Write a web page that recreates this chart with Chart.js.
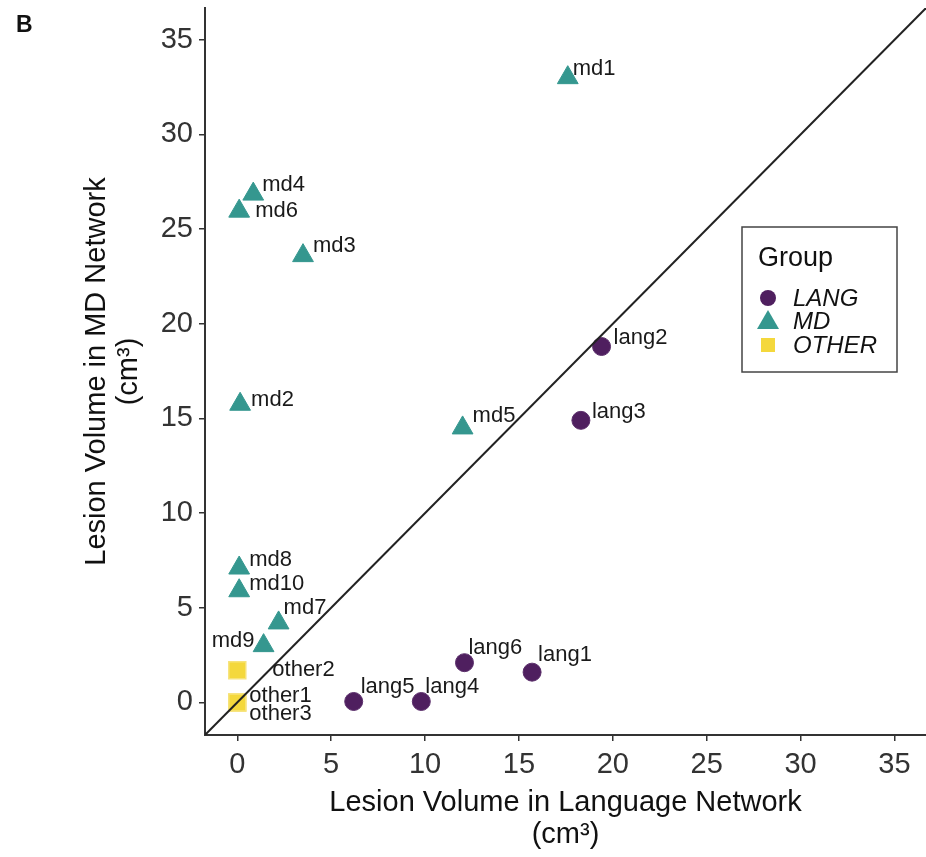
<!DOCTYPE html>
<html>
<head>
<meta charset="utf-8">
<script src="https://cdn.jsdelivr.net/npm/chart.js@4.4.1/dist/chart.umd.min.js"></script>
<style>
body { margin: 0; background: #fff; }
</style>
</head>
<body>
<canvas id="grafico" width="926" height="857"></canvas>
<script>
// Datos (cm3)
const grupos = ['LANG', 'MD', 'OTHER'];

const langNombres = ['lang1', 'lang2', 'lang3', 'lang4', 'lang5', 'lang6'];
const langX = [15.7, 19.4, 18.3, 9.8, 6.2, 12.1];
const langY = [1.6, 18.8, 14.9, 0.05, 0.05, 2.1];

const mdNombres = ['md1', 'md2', 'md3', 'md4', 'md5', 'md6', 'md7', 'md8', 'md9', 'md10'];
const mdX = [17.6, 0.15, 3.5, 0.85, 12.0, 0.1, 2.2, 0.1, 1.4, 0.1];
const mdY = [33.0, 15.75, 23.6, 26.85, 14.5, 25.95, 4.2, 7.1, 3.0, 5.9];

const otherNombres = ['other1', 'other2', 'other3'];
const otherX = [0, 0, 0];
const otherY = [0, 1.7, 0];

const xTicks = [0, 5, 10, 15, 20, 25, 30, 35];
const yTicks = [0, 5, 10, 15, 20, 25, 30, 35];
const ejeMin = -1.72, ejeMax = 36.68;

// desplazamiento de cada etiqueta respecto a su punto (px)
const desplazamientos = {
    lang1: [6, -17], lang2: [12, -9], lang3: [11, -8], lang4: [4, -15], lang5: [7, -15], lang6: [4, -15],
    md1: [5, -9], md2: [11, -4], md3: [10, -10], md4: [9, -9], md5: [10, -12], md6: [16, 0],
    md7: [5, -15], md8: [10, -8], md9: [-9, -5, 'right'], md10: [10, -7],
    other1: [12, -6], other2: [35, 0], other3: [12, 12]
};

const colores = { LANG: '#4f1f5f', MD: '#35978f', OTHER: '#f4d83c' };
const fuente = '"Liberation Sans", Arial, sans-serif';
Chart.defaults.font.family = fuente;

function puntos(xs, ys) {
    var res = [];
    for (var i = 0; i < xs.length; i++) res.push({ x: xs[i], y: ys[i] });
    return res;
}

// sin relleno extra para las etiquetas de los ejes
function sinPadding(s) {
    s.paddingTop = 0; s.paddingBottom = 0; s.paddingLeft = 0; s.paddingRight = 0;
}

const etiquetasPlugin = {
    id: 'etiquetas',
    afterDatasetsDraw(chart) {
        const ctx = chart.ctx;
        ctx.save();
        ctx.font = '22px ' + fuente;
        ctx.fillStyle = '#1a1a1a';
        ctx.textBaseline = 'middle';
        chart.data.datasets.forEach((ds, i) => {
            if (!ds.nombres) return;
            const meta = chart.getDatasetMeta(i);
            meta.data.forEach((p, j) => {
                const nombre = ds.nombres[j];
                const d = desplazamientos[nombre];
                ctx.textAlign = d[2] || 'left';
                ctx.fillText(nombre, p.x + d[0], p.y + d[1]);
            });
        });
        ctx.restore();
    }
};

// leyenda "Group" dentro del grafico, y letra del panel
const leyendaPlugin = {
    id: 'leyenda',
    afterDraw(chart) {
        const ctx = chart.ctx;
        ctx.save();
        ctx.strokeStyle = '#444';
        ctx.lineWidth = 1.5;
        ctx.strokeRect(742, 227, 155, 145);
        ctx.fillStyle = '#111';
        ctx.textBaseline = 'middle';
        ctx.textAlign = 'left';
        ctx.font = '27px ' + fuente;
        ctx.fillText('Group', 758, 259);
        ctx.font = 'italic 24px ' + fuente;
        var ys = [298, 321, 345];
        grupos.forEach((g, i) => {
            var y = ys[i];
            ctx.fillStyle = colores[g];
            ctx.beginPath();
            if (g === 'LANG') {
                ctx.arc(768, y, 8, 0, Math.PI * 2);
            } else if (g === 'MD') {
                ctx.moveTo(768, y - 11);
                ctx.lineTo(779, y + 8);
                ctx.lineTo(757, y + 8);
                ctx.closePath();
            } else {
                ctx.rect(761, y - 7, 14, 14);
            }
            ctx.fill();
            ctx.fillStyle = '#111';
            ctx.fillText(g, 793, y + 1);
        });
        ctx.font = 'bold 23px ' + fuente;
        ctx.textBaseline = 'alphabetic';
        ctx.fillText('B', 16, 32);
        ctx.restore();
    }
};

new Chart(document.getElementById('grafico'), {
    type: 'scatter',
    data: {
        datasets: [
            {
                type: 'line',
                label: 'diagonal',
                data: [{ x: ejeMin, y: ejeMin }, { x: ejeMax, y: ejeMax }],
                borderColor: '#222',
                borderWidth: 2,
                pointRadius: 0
            },
            {
                label: 'LANG', nombres: langNombres,
                data: puntos(langX, langY),
                pointStyle: 'circle', pointRadius: 9,
                backgroundColor: colores.LANG, borderColor: '#5b2f6b', borderWidth: 1
            },
            {
                label: 'MD', nombres: mdNombres,
                data: puntos(mdX, mdY),
                pointStyle: 'triangle', pointRadius: 12,
                backgroundColor: colores.MD, borderColor: colores.MD, borderWidth: 1
            },
            {
                label: 'OTHER', nombres: otherNombres,
                data: puntos(otherX, otherY),
                pointStyle: 'rect', pointRadius: 12,
                backgroundColor: colores.OTHER, borderColor: '#f7e37a', borderWidth: 1.5
            }
        ]
    },
    options: {
        responsive: false,
        animation: false,
        devicePixelRatio: 1,
        layout: { autoPadding: false, padding: { top: 8, right: 0, left: 0, bottom: 0 } },
        plugins: { legend: { display: false }, tooltip: { enabled: false } },
        scales: {
            x: {
                type: 'linear', min: ejeMin, max: ejeMax,
                afterBuildTicks: s => { s.ticks = xTicks.map(v => ({ value: v })); },
                afterFit: s => { s.height = 122; sinPadding(s); },
                grid: { drawOnChartArea: false, drawTicks: true, tickLength: 6, color: '#333', lineWidth: 1.5 },
                border: { display: true, color: '#333', width: 2 },
                ticks: { font: { size: 29 }, color: '#333', padding: 7, maxRotation: 0, autoSkip: false },
                title: {
                    display: true,
                    text: ['Lesion Volume in Language Network', '(cm³)'],
                    font: { size: 29, lineHeight: 1.1 }, color: '#111',
                    padding: { top: 0, bottom: 6 }
                }
            },
            y: {
                type: 'linear', min: ejeMin, max: ejeMax,
                afterBuildTicks: s => { s.ticks = yTicks.map(v => ({ value: v })); },
                afterFit: s => { s.width = 205; sinPadding(s); },
                grid: { drawOnChartArea: false, drawTicks: true, tickLength: 6, color: '#333', lineWidth: 1.5 },
                border: { display: true, color: '#333', width: 2 },
                ticks: { font: { size: 29 }, color: '#333', padding: 6, autoSkip: false },
                title: {
                    display: true,
                    text: ['Lesion Volume in MD Network', '(cm³)'],
                    font: { size: 29, lineHeight: 1.1 }, color: '#111',
                    padding: { top: 81, bottom: 0 }
                }
            }
        }
    },
    plugins: [etiquetasPlugin, leyendaPlugin]
});
</script>
</body>
</html>
